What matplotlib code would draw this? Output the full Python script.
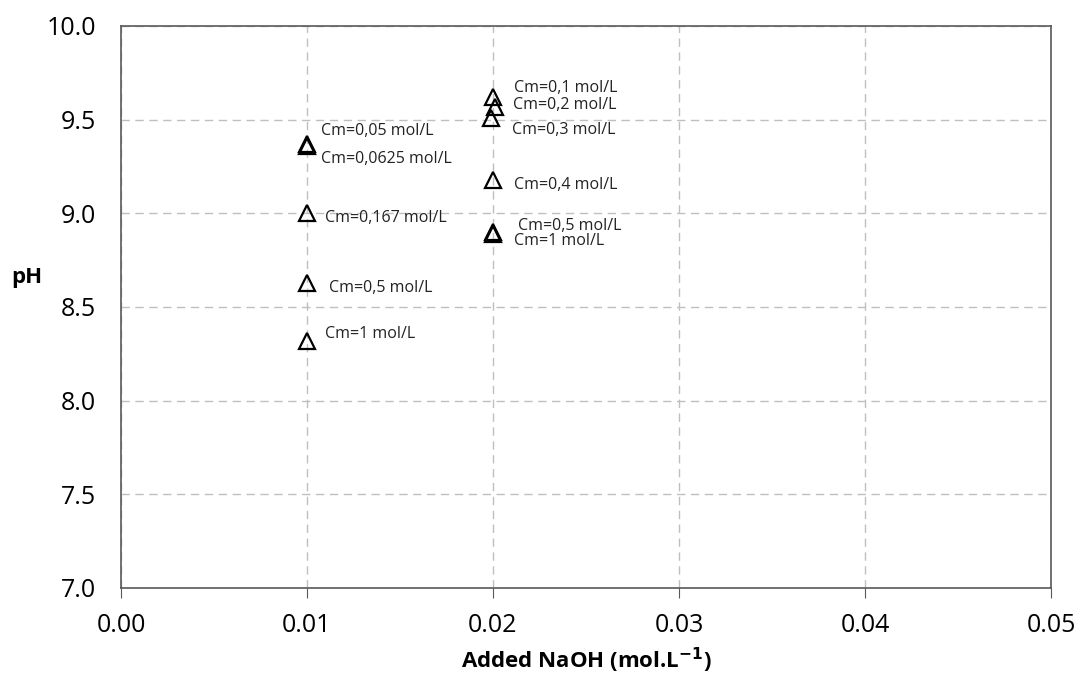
import matplotlib
matplotlib.use("Agg")
import matplotlib.pyplot as plt

plt.rcParams['font.family'] = ['Open Sans', 'DejaVu Sans']

# Data: added NaOH (mol/L) and resulting pH
x_vals = [0.01, 0.01, 0.01, 0.01, 0.01,
          0.02, 0.0201, 0.0199, 0.02, 0.02, 0.02]
ph_vals = [9.37, 9.36, 9.00, 8.63, 8.32,
           9.62, 9.57, 9.51, 9.18, 8.90, 8.89]
labels = ["Cm=0,05 mol/L", "Cm=0,0625 mol/L", "Cm=0,167 mol/L", "Cm=0,5 mol/L", "Cm=1 mol/L",
          "Cm=0,1 mol/L", "Cm=0,2 mol/L", "Cm=0,3 mol/L", "Cm=0,4 mol/L", "Cm=0,5 mol/L", "Cm=1 mol/L"]
# label offsets in pixels (dx, dy)
label_dx = [14, 14, 18, 22, 18, 21, 18, 21, 21, 25, 21]
label_dy = [13, -13, -5, -5, 7, 9, 2, -12, -5, 6, -7]

xticks = [0.00, 0.01, 0.02, 0.03, 0.04, 0.05]
yticks = [7.0, 7.5, 8.0, 8.5, 9.0, 9.5, 10.0]

fig = plt.figure(figsize=(10.79, 6.75), dpi=100)
ax = fig.add_axes([0.1121, 0.1289, 0.8620, 0.8326])

ax.plot(x_vals, ph_vals, linestyle='none', marker='^', markersize=11,
        markerfacecolor='none', markeredgecolor='black', markeredgewidth=1.6, zorder=3)

for x, y, t, dx, dy in zip(x_vals, ph_vals, labels, label_dx, label_dy):
    ax.annotate(t, (x, y), xytext=(dx, dy), textcoords='offset pixels',
                fontsize=11.5, color='#222222', ha='left', va='center', zorder=4)

ax.set_xlim(0, 0.05)
ax.set_ylim(7.0, 10.0)
ax.set_xticks(xticks)
ax.set_xticklabels([f"{v:.2f}" for v in xticks])
ax.set_yticks(yticks)
ax.set_yticklabels([f"{v:.1f}" for v in yticks])

ax.grid(True, color='#bfbfbf', linestyle=(0, (6, 4)), linewidth=1.0)
ax.set_axisbelow(True)

for s in ax.spines.values():
    s.set_color('#595959')
    s.set_linewidth(1.2)

ax.tick_params(axis='x', direction='out', length=7, color='#595959', labelsize=18, pad=11)
ax.tick_params(axis='y', length=0, labelsize=18, pad=18)

ax.set_xlabel("Added NaOH (mol.L$^{\\mathbf{-1}}$)", fontsize=16, fontweight='bold')
ax.set_ylabel("pH", fontsize=16, fontweight='bold', rotation=0, ha='left', va='center')
ax.yaxis.set_label_coords(-0.118, 0.552)
ax.xaxis.set_label_coords(0.5, -0.128)
ax.xaxis.label.set_va('center')

fig.savefig("out.png", dpi=100)
